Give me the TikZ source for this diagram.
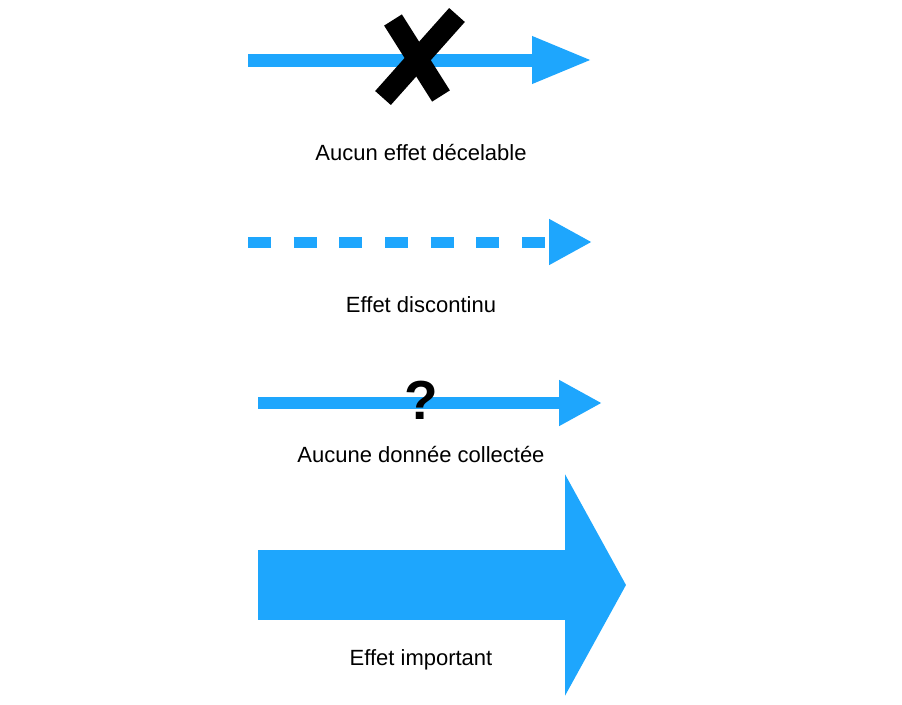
\documentclass[tikz,border=0pt]{standalone}
\usepackage{fontspec}
\setmainfont{Liberation Sans}
\usetikzlibrary{arrows.meta}
\definecolor{flowblue}{RGB}{30,166,253}
\begin{document}
\begin{tikzpicture}[x=1pt,y=-1pt,flow/.style={draw=flowblue,line cap=butt},cross/.style={line width=21pt},label/.style={anchor=base,inner sep=0pt,font=\fontsize{22}{26}\selectfont}]
\useasboundingbox (0,0) rectangle (902,704);
% aucun effet
\coordinate (a1) at (248,60);
\coordinate (b1) at (592,60);
\draw[flow,line width=13pt,-{Triangle[length=60pt,width=44pt]}] (a1)--(b1);
\draw[cross] (393,20)--(441,96);
\draw[cross] (457,15)--(383,98);
\node[label] (t1) at (421,160) {Aucun effet décelable};
% discontinu
\coordinate (a2) at (248,242);
\coordinate (b2) at (592,242);
\draw[flow,line width=11pt,dash pattern=on 23pt off 22.67pt,-{Triangle[length=43pt,width=43pt]}] (a2)--(b2);
\node[label] (t2) at (421,312) {Effet discontinu};
% pas de donnees
\coordinate (a3) at (258,403);
\coordinate (b3) at (602,403);
\draw[flow,line width=12pt,-{Triangle[length=43pt,width=43pt]}] (a3)--(b3);
\node[inner sep=0pt,font=\fontsize{55}{55}\selectfont\bfseries] (q3) at (421,400) {?};
\node[label] (t3) at (421,462) {Aucune donnée collectée};
% effet important
\coordinate (a4) at (258,585);
\coordinate (b4) at (626,585);
\draw[flow,line width=70pt,-{Triangle[length=61pt,width=219pt]}] (a4)--(b4);
\node[label] (t4) at (421,665) {Effet important};
\end{tikzpicture}
\end{document}
